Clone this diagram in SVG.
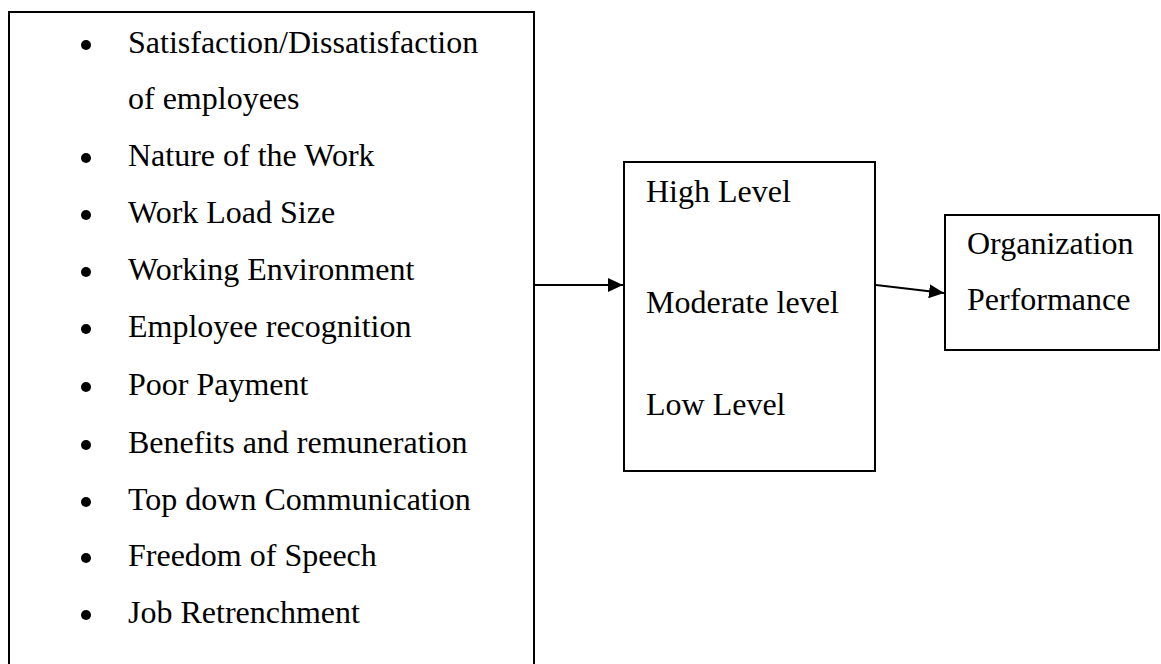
<svg xmlns="http://www.w3.org/2000/svg" width="1161" height="664" viewBox="0 0 1161 664">
<style>
.box{fill:#fff;stroke:#000;stroke-width:2}
.t{font-family:"Liberation Serif","Times New Roman",serif;font-size:32px;fill:#000}
.conn{stroke:#000;stroke-width:2.2;fill:none}
</style>
<defs>
<marker id="arr" viewBox="0 0 15 14" refX="15" refY="7" markerWidth="15" markerHeight="14" markerUnits="userSpaceOnUse" orient="auto">
<path d="M0,0 L15,7 L0,14 Z" fill="#000"/>
</marker>
</defs>
<rect width="1161" height="664" fill="#fff"/>
<g id="factors">
<path class="box" d="M9,670 V12 H534 V670"/>
<g fill="#000">
<circle cx="86" cy="45" r="5"/>
<circle cx="86" cy="158" r="5"/>
<circle cx="86" cy="215" r="5"/>
<circle cx="86" cy="272" r="5"/>
<circle cx="86" cy="329" r="5"/>
<circle cx="86" cy="387" r="5"/>
<circle cx="86" cy="445" r="5"/>
<circle cx="86" cy="502" r="5"/>
<circle cx="86" cy="558" r="5"/>
<circle cx="86" cy="615" r="5"/>
</g>
<text class="t" x="128" y="53">Satisfaction/Dissatisfaction</text>
<text class="t" x="128" y="109">of employees</text>
<text class="t" x="128" y="166">Nature of the Work</text>
<text class="t" x="128" y="223">Work Load Size</text>
<text class="t" x="128" y="280">Working Environment</text>
<text class="t" x="128" y="337">Employee recognition</text>
<text class="t" x="128" y="395">Poor Payment</text>
<text class="t" x="128" y="453">Benefits and remuneration</text>
<text class="t" x="128" y="510">Top down Communication</text>
<text class="t" x="128" y="566">Freedom of Speech</text>
<text class="t" x="128" y="623">Job Retrenchment</text>
</g>
<g id="levels">
<rect class="box" x="624" y="162" width="251" height="309"/>
<text class="t" x="646" y="202">High Level</text>
<text class="t" x="646" y="313">Moderate level</text>
<text class="t" x="646" y="415">Low Level</text>
</g>
<g id="performance">
<rect class="box" x="945" y="215" width="214" height="135"/>
<text class="t" x="967" y="254">Organization</text>
<text class="t" x="967" y="310">Performance</text>
</g>
<g id="connectors">
<line class="conn" x1="535" y1="285" x2="623" y2="285" marker-end="url(#arr)"/>
<line class="conn" x1="876" y1="285" x2="944" y2="293" marker-end="url(#arr)"/>
</g>
</svg>
